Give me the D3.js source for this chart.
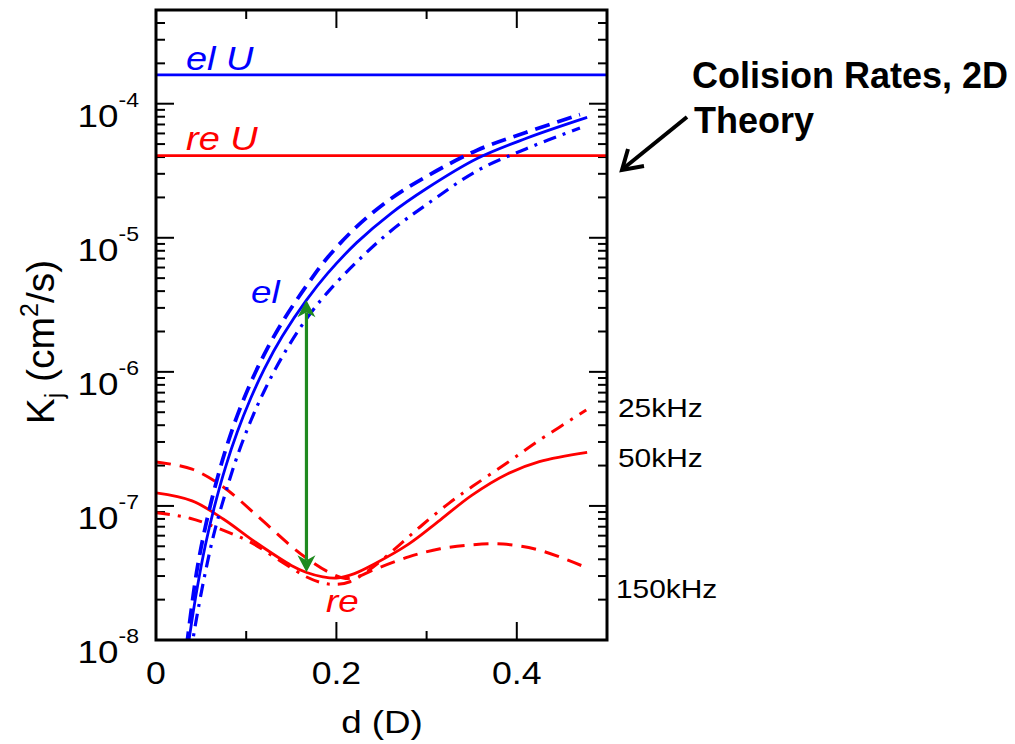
<!DOCTYPE html>
<html>
<head>
<meta charset="utf-8">
<script src="https://cdn.jsdelivr.net/npm/d3@7"></script>
<style>
  body { margin: 0; background: #fff; }
  svg { display: block; }
  text { font-family: "Liberation Sans", Arial, Helvetica, sans-serif; }
</style>
</head>
<body>
<svg id="chart" width="1015" height="744"></svg>
<script>
// ---- data: collision rates K_j (cm^2/s) versus separation d (units of D) ----
// elastic ("el") rates
const elD50   = [0.036, 0.045, 0.055, 0.065, 0.077, 0.09, 0.105, 0.12, 0.14, 0.167, 0.19, 0.2225, 0.26, 0.30, 0.356, 0.41, 0.478];
const elK50   = [9.4e-9, 2.3e-8, 5.2e-8, 1.0e-7, 1.94e-7, 3.54e-7, 6.35e-7, 1.05e-6, 1.84e-6, 3.44e-6, 5.4e-6, 9.2e-6, 1.51e-5, 2.33e-5, 3.9e-5, 5.5e-5, 7.9e-5];
const elD150  = [0.034, 0.045, 0.055, 0.065, 0.077, 0.09, 0.105, 0.12, 0.14, 0.167, 0.19, 0.2225, 0.26, 0.30, 0.356, 0.41, 0.47];
const elK150  = [9.0e-9, 3.2e-8, 7.1e-8, 1.35e-7, 2.6e-7, 4.7e-7, 8.3e-7, 1.35e-6, 2.35e-6, 4.4e-6, 7.1e-6, 1.21e-5, 1.95e-5, 2.87e-5, 4.5e-5, 6.1e-5, 8.3e-5];
const elD25   = [0.038, 0.045, 0.055, 0.065, 0.077, 0.09, 0.105, 0.12, 0.14, 0.167, 0.19, 0.2225, 0.26, 0.30, 0.356, 0.41, 0.47];
const elK25   = [7.6e-9, 1.46e-8, 3.27e-8, 6.5e-8, 1.25e-7, 2.34e-7, 4.3e-7, 7.2e-7, 1.3e-6, 2.5e-6, 3.9e-6, 6.6e-6, 1.12e-5, 1.77e-5, 3.16e-5, 4.6e-5, 6.6e-5];

// reactive ("re") rates
const reD50   = [0, 0.04, 0.075, 0.11, 0.15, 0.167, 0.185, 0.20, 0.22, 0.24, 0.28, 0.315, 0.35, 0.39, 0.425, 0.478];
const reK50   = [1.25e-7, 1.09e-7, 7.96e-8, 5.38e-8, 3.6e-8, 3.19e-8, 2.96e-8, 2.9e-8, 3.13e-8, 3.63e-8, 5.19e-8, 7.85e-8, 1.2e-7, 1.74e-7, 2.14e-7, 2.51e-7];
const reD150  = [0, 0.04, 0.075, 0.11, 0.15, 0.167, 0.19, 0.21, 0.225, 0.24, 0.28, 0.315, 0.35, 0.385, 0.425, 0.477];
const reK150  = [2.13e-7, 1.88e-7, 1.38e-7, 8.7e-8, 5.0e-8, 4.07e-8, 3.24e-8, 2.88e-8, 2.99e-8, 3.31e-8, 4.17e-8, 4.79e-8, 5.13e-8, 5.19e-8, 4.68e-8, 3.47e-8];
const reD25   = [0, 0.0376, 0.0742, 0.104, 0.14, 0.167, 0.185, 0.20, 0.215, 0.24, 0.27, 0.2955, 0.325, 0.351, 0.389, 0.425, 0.477];
const reK25   = [8.9e-8, 8.1e-8, 6.6e-8, 5.4e-8, 3.8e-8, 2.95e-8, 2.66e-8, 2.6e-8, 2.72e-8, 3.47e-8, 5.13e-8, 7.24e-8, 1.05e-7, 1.4e-7, 2.09e-7, 3.09e-7, 5.19e-7];

// unitary-limit rates
const elUnitary = 1.64e-4;
const reUnitary = 4.1e-5;

// gap between the two 50 kHz curves
const gapD = 0.1668;

// axes
const xMajorTicks = [0, 0.2, 0.4];
const xMinorTicks = [0.1, 0.3];
const xTickLabels = ["0", "0.2", "0.4"];
const yMajorTicks = [1e-8, 1e-7, 1e-6, 1e-5, 1e-4];
const yTickExponents = ["-8", "-7", "-6", "-5", "-4"];
const freqLabels = ["25kHz", "50kHz", "150kHz"];

// ---- layout ----
const svg = d3.select("#chart");
const L = 156, R = 607, T = 10, B = 640;
const SX = 1.15; // horizontal stretch of the figure lettering

const x = d3.scaleLinear().domain([0, 0.5]).range([L, R]);
const y = d3.scaleLog().domain([1e-8, 5e-4]).range([B, T]);

const BLUE = "#0000ff", RED = "#ff0000", GREEN = "#1f8a1f";

svg.append("defs").append("clipPath").attr("id", "plotClip")
  .append("rect").attr("x", L).attr("y", T).attr("width", R - L).attr("height", B - T);

// ---- ticks (pointing inward on all four sides) ----
const tickG = svg.append("g").attr("stroke", "#000").attr("stroke-width", 2);
function xTicks(vals, len) {
  vals.forEach(v => {
    tickG.append("line").attr("x1", x(v)).attr("x2", x(v)).attr("y1", B).attr("y2", B - len);
    tickG.append("line").attr("x1", x(v)).attr("x2", x(v)).attr("y1", T).attr("y2", T + len);
  });
}
xTicks(xMajorTicks, 18);
xTicks(xMinorTicks, 9);

const yMinor = y.ticks().filter(v => !yMajorTicks.some(m => Math.abs(m - v) / m < 1e-6));
function yTicks(vals, len) {
  vals.forEach(v => {
    tickG.append("line").attr("x1", L).attr("x2", L + len).attr("y1", y(v)).attr("y2", y(v));
    tickG.append("line").attr("x1", R).attr("x2", R - len).attr("y1", y(v)).attr("y2", y(v));
  });
}
yTicks(yMajorTicks, 18);
yTicks(yMinor, 9);

// ---- curves ----
const plot = svg.append("g").attr("clip-path", "url(#plotClip)");
const line = d3.line().x(p => x(p[0])).y(p => y(p[1])).curve(d3.curveCatmullRom.alpha(0.5));
const zipPts = (ds, ks) => ds.map((d, i) => [d, ks[i]]);

// unitary limits
plot.append("line").attr("x1", L).attr("x2", R).attr("y1", y(elUnitary)).attr("y2", y(elUnitary))
  .attr("stroke", BLUE).attr("stroke-width", 2.6);
plot.append("line").attr("x1", L).attr("x2", R).attr("y1", y(reUnitary)).attr("y2", y(reUnitary))
  .attr("stroke", RED).attr("stroke-width", 2.6);

const series = [
  { d: reD150, k: reK150, c: RED,  w: 3,   dash: "15,9" },
  { d: reD25,  k: reK25,  c: RED,  w: 3,   dash: "14,8,3,8" },
  { d: reD50,  k: reK50,  c: RED,  w: 2.8, dash: null },
  { d: elD150, k: elK150, c: BLUE, w: 3.8, dash: "15,8" },
  { d: elD25,  k: elK25,  c: BLUE, w: 3.2, dash: "13,7,3,7" },
  { d: elD50,  k: elK50,  c: BLUE, w: 2.8, dash: null }
];
series.forEach(s => {
  plot.append("path").attr("d", line(zipPts(s.d, s.k)))
    .attr("fill", "none").attr("stroke", s.c).attr("stroke-width", s.w)
    .attr("stroke-dasharray", s.dash);
});

// double-headed arrow spanning the el / re gap at 50 kHz
const interp = (ds, ks, d) => {
  const i = d3.bisectRight(ds, d) - 1;
  const t = (d - ds[i]) / (ds[i + 1] - ds[i]);
  return Math.pow(10, Math.log10(ks[i]) + t * (Math.log10(ks[i + 1]) - Math.log10(ks[i])));
};
const ax = x(gapD), ayTop = y(interp(elD50, elK50, gapD)), ayBot = y(interp(reD50, reK50, gapD));
svg.append("line").attr("x1", ax).attr("x2", ax).attr("y1", ayTop + 12).attr("y2", ayBot - 12)
  .attr("stroke", GREEN).attr("stroke-width", 3.2);
svg.append("path").attr("fill", GREEN)
  .attr("d", `M${ax},${ayTop} L${ax - 9},${ayTop + 17} L${ax},${ayTop + 12} L${ax + 9},${ayTop + 17} Z`);
svg.append("path").attr("fill", GREEN)
  .attr("d", `M${ax},${ayBot} L${ax - 9},${ayBot - 17} L${ax},${ayBot - 12} L${ax + 9},${ayBot - 17} Z`);

// frame
svg.append("rect").attr("x", L).attr("y", T).attr("width", R - L).attr("height", B - T)
  .attr("fill", "none").attr("stroke", "#000").attr("stroke-width", 3);

// ---- text ----
function stretched(xp, yp, opts = {}) {
  const sx = opts.sx || SX;
  return svg.append("text")
    .attr("transform", `translate(${xp},${yp}) scale(${sx},1)` + (opts.rotate ? ` rotate(${opts.rotate})` : ""))
    .attr("font-size", opts.size || 32)
    .attr("fill", opts.fill || "#000")
    .attr("font-style", opts.italic ? "italic" : null)
    .attr("text-anchor", opts.anchor || "start");
}

// y tick labels 10^n
yMajorTicks.forEach((v, i) => {
  const t = stretched(139, y(v) + 23, { anchor: "end", size: 32 });
  t.append("tspan").text("10");
  t.append("tspan").attr("dy", -20).attr("font-size", 20).text(yTickExponents[i]);
});

// x tick labels
xMajorTicks.forEach((v, i) => {
  stretched(x(v), 684, { anchor: "middle", size: 31 }).text(xTickLabels[i]);
});

// axis titles
stretched(382, 733, { anchor: "middle", size: 32 }).text("d (D)");
const yl = stretched(54, 342, { anchor: "middle", size: 39, rotate: -90, sx: 1 });
yl.append("tspan").text("K");
yl.append("tspan").attr("dy", 9).attr("font-size", 25).text("j");
yl.append("tspan").attr("dy", -9).text(" (cm");
yl.append("tspan").attr("dy", -16).attr("font-size", 25).text("2");
yl.append("tspan").attr("dy", 16).text("/s)");

// curve labels
stretched(186, 70, { size: 33, italic: true, fill: BLUE }).text("el U");
stretched(186, 150, { size: 33, italic: true, fill: RED }).text("re U");
stretched(251, 303, { size: 32, italic: true, fill: BLUE }).text("el");
stretched(326, 612, { size: 32, italic: true, fill: RED }).text("re");

// frequency labels
stretched(618, 417, { size: 26 }).text(freqLabels[0]);
stretched(618, 467, { size: 26 }).text(freqLabels[1]);
stretched(616, 598, { size: 26 }).text(freqLabels[2]);

// annotation
svg.append("text").attr("x", 692).attr("y", 88).attr("font-size", 36).attr("font-weight", "bold")
  .text("Colision Rates, 2D");
svg.append("text").attr("x", 694).attr("y", 133).attr("font-size", 36).attr("font-weight", "bold")
  .text("Theory");
svg.append("line").attr("x1", 687).attr("y1", 117).attr("x2", 624).attr("y2", 168)
  .attr("stroke", "#000").attr("stroke-width", 4);
svg.append("path").attr("d", "M644,166 L622,170 L628,149")
  .attr("fill", "none").attr("stroke", "#000").attr("stroke-width", 4).attr("stroke-linejoin", "miter");
</script>
</body>
</html>
